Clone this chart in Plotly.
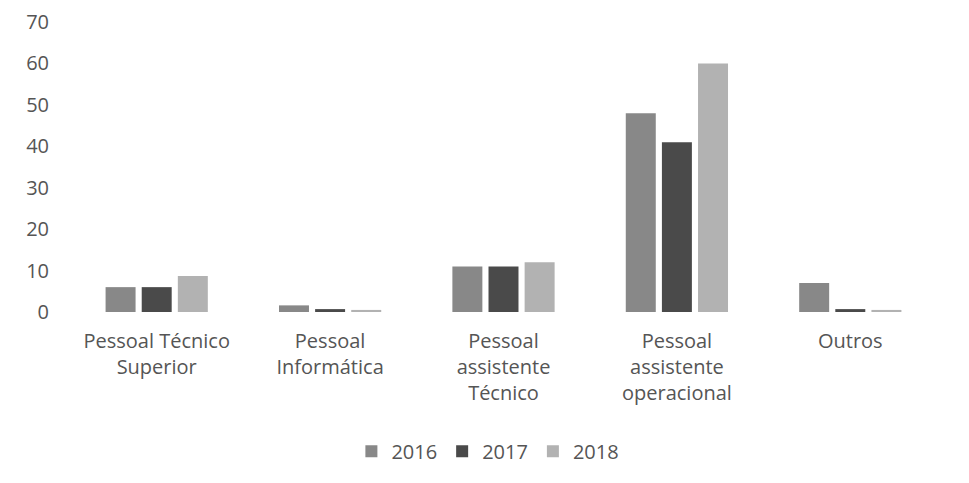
import plotly.graph_objects as go

categories = ["Pessoal Técnico<br>Superior", "Pessoal<br>Informática", "Pessoal<br>assistente<br>Técnico",
              "Pessoal<br>assistente<br>operacional", "Outros"]
years = ["2016", "2017", "2018"]
v2016 = [6, 1.6, 11, 48, 7]
v2017 = [6, 0.7, 11, 41, 0.7]
v2018 = [8.7, 0.5, 12, 60, 0.5]
y_ticks = [0, 10, 20, 30, 40, 50, 60, 70]

colors = ["#888888", "#4a4a4a", "#b2b2b2"]
fig = go.Figure()
for name, vals, c in zip(years, [v2016, v2017, v2018], colors):
    fig.add_trace(go.Bar(x=categories, y=vals, name=name, marker_color=c, marker_line_width=0))

fig.update_layout(
    width=969, height=483,
    margin=dict(l=70, r=32, t=22, b=164),
    paper_bgcolor="white", plot_bgcolor="white",
    barmode="group", bargap=0.375, bargroupgap=0.17,
    font=dict(family="Open Sans, Liberation Sans, sans-serif", size=20, color="#555555"),
    showlegend=True,
    legend=dict(orientation="h", x=0.482, xanchor="center", y=-0.48, yanchor="middle",
                font=dict(size=20), traceorder="normal", itemwidth=30),
)
fig.update_xaxes(showline=False, ticks="", tickfont=dict(size=20), tickangle=0, automargin=False,
                 ticklabelstandoff=15)
fig.update_yaxes(range=[0, 70], tickvals=y_ticks, showgrid=False, zeroline=False, automargin=False,
                 ticks="", tickfont=dict(size=20), ticklabelstandoff=20)
fig.write_html("out.html", config={"displayModeBar": False})

with open("out.html", encoding="utf-8") as f:
    html = f.read()
html = html.replace("<body>", '<body style="margin:0">', 1)
with open("out.html", "w", encoding="utf-8") as f:
    f.write(html)
